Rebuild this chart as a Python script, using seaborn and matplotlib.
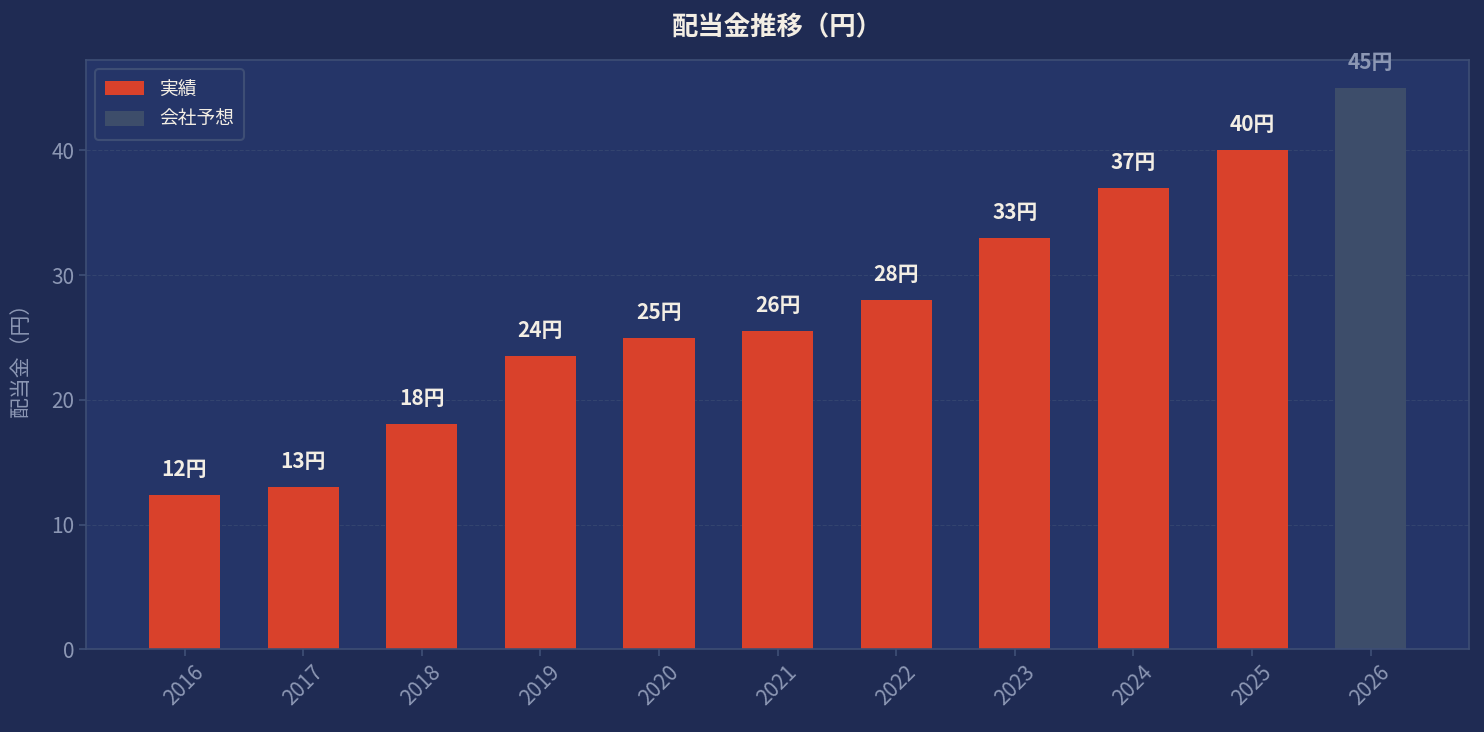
import numpy as np
import pandas as pd
import seaborn as sns
import matplotlib.pyplot as plt

years = ['2016', '2017', '2018', '2019', '2020', '2021', '2022', '2023', '2024', '2025', '2026']
dividends = [12.4, 13.0, 18.1, 23.5, 25.0, 25.5, 28.0, 33.0, 37.0, 40.0, 45.0]
kinds = ['実績'] * 10 + ['会社予想']

FIG_BG = '#1f2b53'
AX_BG = '#253568'
EDGE = '#3e4e75'
TICK = '#8c97b4'
TEXT = '#f3eee4'
palette = {'実績': '#d9412b', '会社予想': '#3d4d6a'}

df = pd.DataFrame({'year': years, 'dividend': dividends, 'kind': kinds})

sns.set_theme(style='dark')
plt.rcParams['font.family'] = ['Noto Sans CJK JP', 'DejaVu Sans']

fig, ax = plt.subplots(figsize=(14.84, 7.32), dpi=100)
fig.patch.set_facecolor(FIG_BG)
ax.set_facecolor(AX_BG)

sns.barplot(data=df, x='year', y='dividend', hue='kind', palette=palette,
            dodge=False, width=0.6, ax=ax, saturation=1, linewidth=0,
            edgecolor='none')

# value labels above bars
for i, (v, k) in enumerate(zip(dividends, kinds)):
    col = TEXT if k == '実績' else TICK
    ax.text(i, v + 1.2, f'{v:.0f}円', ha='center', va='bottom',
            fontsize=15, fontweight='bold', color=col)

# matplotlib-style margins around the bars
pad = 0.3 + 0.05 * (len(years) - 1 + 0.6)
ax.set_xlim(-pad, len(years) - 1 + pad)
ax.set_ylim(0, max(dividends) * 1.05)
ax.set_xlabel('')
ax.set_ylabel('配当金（円）', color=TICK, fontsize=15, labelpad=14)
ax.set_title('配当金推移（円）', color=TEXT, fontsize=19, fontweight='bold', pad=18)

ax.grid(axis='y', color='#33446f', linestyle='--', linewidth=0.8)
ax.set_axisbelow(True)
for s in ax.spines.values():
    s.set_color(EDGE)
    s.set_linewidth(1.2)

ax.tick_params(axis='both', colors=EDGE, labelcolor=TICK, labelsize=15,
               left=True, bottom=True, length=5)
plt.setp(ax.get_xticklabels(), rotation=45)

leg = ax.legend(loc='upper left', fontsize=13.5, facecolor=AX_BG, edgecolor=EDGE,
                labelcolor=TEXT, framealpha=1, borderpad=0.5,
                handlelength=2.1, handleheight=0.8)
leg.get_frame().set_linewidth(1.5)

plt.subplots_adjust(left=0.058, right=0.99, top=0.918, bottom=0.113)
plt.savefig('out.png', dpi=100, facecolor=FIG_BG)
